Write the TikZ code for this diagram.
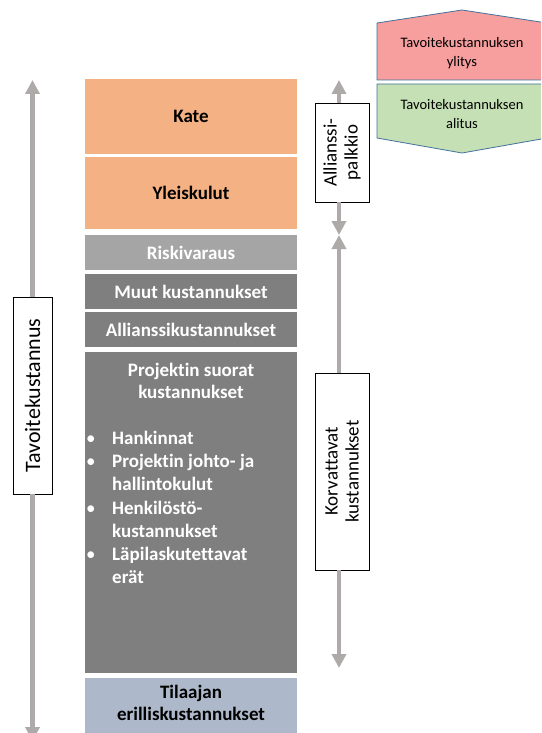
\documentclass[tikz,border=0pt]{standalone}
\usepackage{fontspec}
\setmainfont{Carlito}[Ligatures={NoCommon}]
\usetikzlibrary{positioning, arrows.meta}
\definecolor{kateorange}{HTML}{F4B183}
\definecolor{riskgray}{HTML}{A5A5A5}
\definecolor{costgray}{HTML}{7F7F7F}
\definecolor{clientblue}{HTML}{ADB9CA}
\definecolor{arrowgray}{HTML}{AEAAAA}
\definecolor{overred}{HTML}{F79E9E}
\definecolor{undergreen}{HTML}{C5E0B4}
\definecolor{shapeblue}{HTML}{41719C}

\begin{document}
\begin{tikzpicture}[
    x=1pt, y=-1pt,
    bar/.style={rectangle, fill=#1, minimum width=212pt, inner sep=0pt, outer sep=0pt, font=\fontsize{19}{22}\selectfont\bfseries, align=center},
    bar/.default=costgray,
    bartext/.style={inner sep=0pt, font=\fontsize{19}{22}\selectfont\bfseries, align=center},
    sidebox/.style={rectangle, draw=black, line width=0.8pt, fill=white, rotate=90, inner sep=0pt, outer sep=0pt, font=\fontsize{19}{21}\selectfont, align=center},
    note/.style={inner sep=0pt, font=\fontsize{14.5}{18.5}\selectfont, align=center},
    arrow/.style={draw=arrowgray, line width=4.5pt, -{Triangle[width=14pt, length=14pt]}}
]
\clip (0,0) rectangle (541,733);

% Cost bars
\node[bar=kateorange, minimum height=75pt, anchor=north west] (kate) at (85,79) {Kate};
\node[bar=kateorange, minimum height=72pt, below=3pt of kate] (yleis) {Yleiskulut};
\node[bar=riskgray, text=white, minimum height=35pt, below=6pt of yleis] (risk) {Riskivaraus};
\node[bar, text=white, minimum height=35pt, below=4pt of risk] (muut) {Muut kustannukset};
\node[bar, text=white, minimum height=35pt, below=3pt of muut] (allikust) {Allianssikustannukset};
\node[bar, minimum height=321pt, below=5pt of allikust] (proj) {};
\node[bar=clientblue, minimum height=60pt, below=5pt of proj] (client) {};

% Texts of the tall bars
\node[bartext, text=white, below=11pt of proj.north] (projtitle) {Projektin suorat\\kustannukset};
\node[bartext, text=white, align=left, below right=76pt and 1pt of proj.north west] (projlist) {%
  \fontsize{19}{23.2}\selectfont
  \begin{tabular}{@{}p{26pt}@{}l@{}}
  {\mdseries\textbullet} & Hankinnat\\
  {\mdseries\textbullet} & Projektin johto- ja\\
   & hallintokulut\\
  {\mdseries\textbullet} & Henkilöstö-\\
   & kustannukset\\
  {\mdseries\textbullet} & Läpilaskutettavat\\
   & erät
  \end{tabular}};
\node[bartext, below=7pt of client.north] (clienttitle) {Tilaajan\\erilliskustannukset};

% Arrow ends
\coordinate (tottop) at (32.5,80);
\coordinate (totbot) at (32.5,741);
\coordinate (rtop) at (339,80);
\coordinate (rmid) at (339,235);
\coordinate (rbot) at (339,668);

% Side boxes
\node[sidebox, minimum width=197pt, minimum height=39pt] (tavoite) at (32.5,395.5) {\fontsize{22}{24}\selectfont Tavoitekustannus};
\node[sidebox, minimum width=99pt, minimum height=54pt] (palkkio) at (342,152.5) {Allianssi-\\palkkio};
\node[sidebox, minimum width=197pt, minimum height=54pt] (korv) at (342,471.5) {Korvattavat\\kustannukset};

% Arrows
\draw[arrow] (tavoite.east) -- (tottop);
\draw[arrow] (tavoite.west) -- (totbot);
\draw[arrow] (rtop |- palkkio.east) -- (rtop);
\draw[arrow] (rtop |- palkkio.west) -- (rmid);
\draw[arrow] (rmid |- korv.east) -- (rmid);
\draw[arrow] (rmid |- korv.west) -- (rbot);

% Over / under the target cost
\draw[shapeblue, line width=0.8pt, fill=overred] (377,23) -- (462,10) -- (547,23) -- (547,80) -- (377,80) -- cycle;
\draw[shapeblue, line width=0.8pt, fill=undergreen] (377,84) -- (547,84) -- (547,138) -- (462,153) -- (377,138) -- cycle;
\node[note] (ylitys) at (462,53) {Tavoitekustannuksen\\ylitys};
\node[note] (alitus) at (462,114) {Tavoitekustannuksen\\alitus};

\end{tikzpicture}
\end{document}
